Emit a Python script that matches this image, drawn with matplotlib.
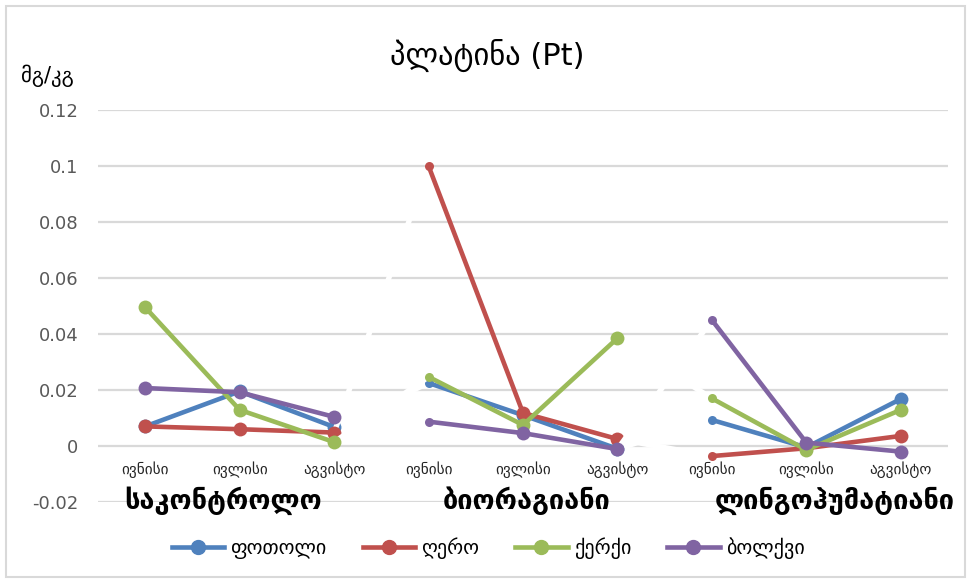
import matplotlib
matplotlib.use("Agg")
import matplotlib.pyplot as plt
from matplotlib.lines import Line2D
from matplotlib.patches import Rectangle

plt.rcParams['font.family'] = ['DejaVu Sans']

# ---- data ----
months = ['ივნისი', 'ივლისი', 'აგვისტო']
groups = ['საკონტროლო', 'ბიორაგიანი', 'ლინგოჰუმატიანი']
series_names = ['ფოთოლი', 'ღერო', 'ქერქი', 'ბოლქვი']
fotoli = [0.007, 0.0195, 0.0068, 0.0225, 0.011, -0.001, 0.0093, -0.0005, 0.0168]
ghero = [0.007, 0.006, 0.0048, 0.100, 0.0118, 0.0025, -0.0036, -0.0008, 0.0036]
kerki = [0.0495, 0.0129, 0.0014, 0.0247, 0.0075, 0.0385, 0.017, -0.0014, 0.0129]
bolkvi = [0.0207, 0.0192, 0.0104, 0.0087, 0.0046, -0.0011, 0.045, 0.0012, -0.002]
yticks = [-0.02, 0, 0.02, 0.04, 0.06, 0.08, 0.1, 0.12]
ytick_labels = ['-0.02', '0', '0.02', '0.04', '0.06', '0.08', '0.1', '0.12']

colors = ['#4F81BD', '#C0504D', '#9BBB59', '#8064A2']
all_series = [fotoli, ghero, kerki, bolkvi]

W, H = 971, 583
fig = plt.figure(figsize=(W / 100, H / 100), dpi=100)
fig.patches.append(Rectangle((6 / W, 6 / H), (W - 12) / W, (H - 12) / H,
                             transform=fig.transFigure, fill=False,
                             edgecolor='#d9d9d9', linewidth=1.5))

ax = fig.add_axes([98 / W, 81 / H, 850 / W, 392 / H])
n = len(months) * len(groups)
ax.set_xlim(-0.5, n - 0.5)
ax.set_ylim(-0.02, 0.12)
for s in ax.spines.values():
    s.set_visible(False)
ax.set_xticks([])
ax.set_yticks(yticks)
ax.set_yticklabels(ytick_labels, fontsize=13, color='#595959')
ax.tick_params(axis='y', length=0, pad=14)
for yv in yticks:
    ax.axhline(yv, color='#d9d9d9', linewidth=1.6, zorder=0.5)

lw = 3.3
for j, (vals, c) in enumerate(zip(all_series, colors)):
    z = 2 + j
    # hidden (white) connectors between groups
    for g in range(len(groups) - 1):
        a = 3 * g + 2
        ax.plot([a, a + 1], [vals[a], vals[a + 1]], color='white',
                linewidth=lw + 0.5, zorder=z, solid_capstyle='butt')
    for g in range(len(groups)):
        xs = list(range(3 * g, 3 * g + 3))
        ys = vals[3 * g:3 * g + 3]
        ax.plot(xs, ys, color=c, linewidth=lw, zorder=z + 0.1,
                solid_capstyle='round')
        for k, (xx, yy) in enumerate(zip(xs, ys)):
            ms = 6.5 if (k == 0 and g > 0) else 10
            ax.plot([xx], [yy], 'o', color=c, markersize=ms,
                    markeredgewidth=0, zorder=z + 0.2)

# category labels
for i in range(n):
    ax.text(i, -0.0085, months[i % 3], ha='center', va='center',
            fontsize=11, color='#262626', zorder=10)
group_label_x = [0.82, 4.04, 7.3]
for gx, name in zip(group_label_x, groups):
    ax.text(gx, -0.0195, name, ha='center', va='center',
            fontsize=19.5, fontweight='bold', color='black', zorder=10)

fig.text(487 / W, 1 - 55 / H, 'პლატინა (Pt)', ha='center', va='center',
         fontsize=22, color='black')
fig.text(47 / W, 1 - 76 / H, 'მგ/კგ', ha='center', va='center',
         fontsize=15, color='black')

handles = [Line2D([0], [0], color=c, linewidth=lw, marker='o', markersize=10)
           for c in colors]
fig.legend(handles, series_names, loc='center', ncol=4, frameon=False,
           bbox_to_anchor=(488 / W, 1 - 548 / H), fontsize=14.5,
           handlelength=2.6, handletextpad=0.3, columnspacing=1.8)

fig.savefig('out.png', dpi=100)
